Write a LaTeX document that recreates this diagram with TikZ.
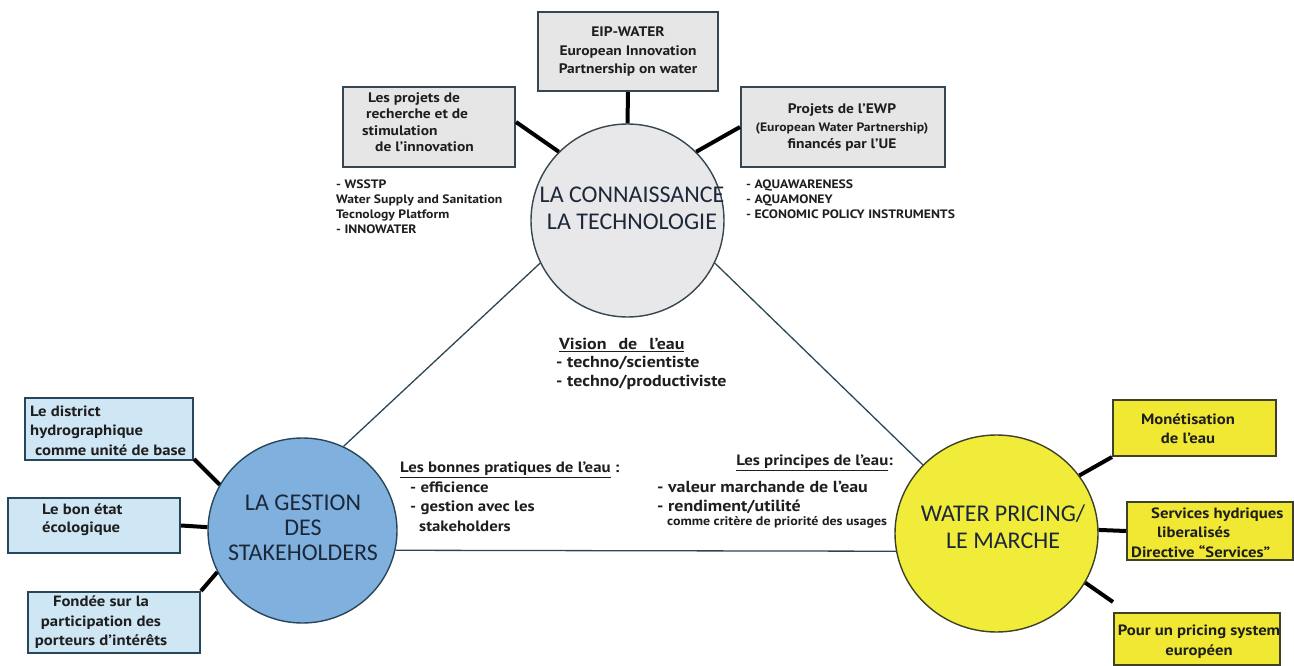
\documentclass[tikz,border=0pt]{standalone}
\usepackage{fontspec}
\setmainfont{PT Sans}[FakeStretch=1.12]
\newfontfamily\circfont{Carlito}
\usetikzlibrary{shapes.geometric}
\definecolor{boxgray}{RGB}{230,230,230}
\definecolor{grayline}{RGB}{55,70,80}
\definecolor{circgray}{RGB}{232,232,234}
\definecolor{blueball}{RGB}{128,177,222}
\definecolor{bluebox}{RGB}{207,230,245}
\definecolor{blueline}{RGB}{40,70,90}
\definecolor{yellowball}{RGB}{241,236,58}
\definecolor{yellowbox}{RGB}{240,232,50}
\definecolor{yellowline}{RGB}{60,65,40}
\definecolor{triline}{RGB}{45,70,85}
\definecolor{txt}{RGB}{30,30,30}
\definecolor{circtxt}{RGB}{28,40,58}
\tikzset{
  boxshape/.style={rectangle, line width=2pt, inner sep=0pt},
  graybox/.style={boxshape, draw=grayline, fill=boxgray},
  bluebx/.style={boxshape, draw=blueline, fill=bluebox},
  yellowbx/.style={boxshape, draw=yellowline, fill=yellowbox},
  ball/.style={ellipse, line width=1.4pt, inner sep=0pt},
  balltext/.style={font=\circfont\fontsize{24pt}{26.5pt}\selectfont, text=circtxt, align=center, inner sep=0pt},
  boxtext/.style={font=\bfseries\fontsize{13.8pt}{16.5pt}\selectfont, text=txt, inner sep=0pt},
  listtext/.style={font=\bfseries\fontsize{12.2pt}{15pt}\selectfont, text=txt, inner sep=0pt, align=left},
  midtext/.style={font=\bfseries\fontsize{15pt}{19.5pt}\selectfont, text=txt, inner sep=0pt, align=left},
  conn/.style={line width=4pt, draw=black},
  triedge/.style={line width=1.3pt, draw=triline},
}
\begin{document}
\begin{tikzpicture}[x=1pt,y=-1pt]
\useasboundingbox (0,0) rectangle (1294,666);
% circles
\node[ball, draw=grayline, fill=circgray, minimum width=193pt, minimum height=193pt] (top) at (627.5,220.5) {};
\node[ball, draw=blueline, fill=blueball, minimum width=189pt, minimum height=185pt] (left) at (302.5,530.5) {};
\node[ball, draw=yellowline, fill=yellowball, minimum width=203pt, minimum height=197pt] (yellow) at (996.5,533.5) {};
\node[balltext] (toptxt) at (632,208.5) {LA CONNAISSANCE\\LA TECHNOLOGIE};
\node[balltext, font=\circfont\fontsize{24pt}{25pt}\selectfont] (lefttxt) at (303,528) {LA GESTION\\DES\\STAKEHOLDERS};
\node[balltext] (yellowtxt) at (1003,526.5) {WATER PRICING/\\LE MARCHE};
% top boxes
\node[graybox, minimum width=180pt, minimum height=79pt] (eip) at (628,51.5) {};
\node[boxtext, align=center, font=\bfseries\fontsize{13.8pt}{18.5pt}\selectfont] (eiptxt) at (628,51.5) {EIP-WATER\\European Innovation\\Partnership on water};
\node[graybox, minimum width=172pt, minimum height=80pt] (tl) at (429,127) {};
\node[boxtext, align=left, anchor=west] (tltxt) at (362,122) {\hspace*{6pt}Les projets de\\\hspace*{4pt}recherche et de\\stimulation\\\hspace*{13pt}de l'innovation};
\node[graybox, minimum width=204pt, minimum height=80pt] (tr) at (843,127) {};
\node[boxtext, align=center, font=\bfseries\fontsize{13.8pt}{17.5pt}\selectfont] (trtxt) at (842,127.5) {Projets de l'EWP\\{\fontsize{12.2pt}{17.5pt}\selectfont (European Water Partnership)}\\financés par l'UE};
\node[listtext, anchor=west] (wsstp) at (336,206.5) {- WSSTP\\Water Supply and Sanitation\\Tecnology Platform\\- INNOWATER};
\node[listtext, anchor=west] (aqua) at (746,199) {- AQUAWARENESS\\- AQUAMONEY\\- ECONOMIC POLICY INSTRUMENTS};
% left boxes
\node[bluebx, minimum width=168pt, minimum height=62pt] (b1) at (109,429) {};
\node[boxtext, align=left, anchor=west, font=\bfseries\fontsize{14.9pt}{19.5pt}\selectfont] (b1txt) at (30,430.5) {Le district\\hydrographique\\\hspace*{5pt}comme unité de base};
\node[bluebx, minimum width=172pt, minimum height=55pt] (b2) at (94,525.5) {};
\node[boxtext, align=left, anchor=west, font=\bfseries\fontsize{14.9pt}{18pt}\selectfont] (b2txt) at (42,520) {Le bon état\\écologique};
\node[bluebx, minimum width=172pt, minimum height=61pt] (b3) at (114,622.5) {};
\node[boxtext, align=center, font=\bfseries\fontsize{14.9pt}{19.5pt}\selectfont] (b3txt) at (101,622.5) {Fondée sur la\\participation des\\porteurs d'intérêts};
% right boxes
\node[yellowbx, minimum width=163pt, minimum height=56pt] (y1) at (1194.5,428) {};
\node[boxtext, align=center, font=\bfseries\fontsize{14.9pt}{19pt}\selectfont] (y1txt) at (1188,428.5) {Monétisation\\de l'eau};
\node[yellowbx, minimum width=166pt, minimum height=58pt] (y2) at (1210,531) {};
\node[boxtext, align=left, anchor=west, font=\bfseries\fontsize{14.9pt}{19.5pt}\selectfont] (y2txt) at (1131,532.5) {\hspace*{20pt}Services hydriques\\\hspace*{26pt}liberalisés\\Directive “Services”};
\node[yellowbx, minimum width=166pt, minimum height=52pt] (y3) at (1197,639) {};
\node[boxtext, align=center, font=\bfseries\fontsize{14.9pt}{20pt}\selectfont] (y3txt) at (1199,642) {Pour un pricing system\\européen};
% middle texts
\node[midtext, anchor=west, font=\bfseries\fontsize{16pt}{18.5pt}\selectfont] (vision) at (556,363.5) {\hspace*{3pt}\underline{Vision\hspace{12pt}de\hspace{12pt}l'eau}\\- techno/scientiste\\- techno/productiviste};
\node[midtext, anchor=west] (bonnes) at (400,497) {\underline{Les bonnes pratiques de l'eau} :\\\hspace*{10pt}- efficience\\\hspace*{10pt}- gestion avec les\\\hspace*{19pt}stakeholders};
\node[midtext, anchor=east] (princ) at (893,463) {\underline{Les principes de l'eau}:};
\node[midtext, anchor=west, font=\bfseries\fontsize{16pt}{19pt}\selectfont] (princlist) at (657,497.5) {- valeur marchande de l'eau\\- rendiment/utilité};
\node[midtext, anchor=west, font=\bfseries\fontsize{12.5pt}{14pt}\selectfont] (princnote) at (667,522) {comme critère de priorité des usages};
% triangle edges
\draw[triedge] (top.206) -- (left.64);
\draw[triedge] (top.-26) -- (yellow.137);
\draw[triedge] (left.-12) -- (yellow.190);
% connectors
\draw[conn] (eip.south) -- (top.north);
\draw[conn] ([yshift=5pt]tl.east) -- (top.135);
\draw[conn] (tr.west) -- (top.45);
\draw[conn] ([yshift=2pt]b1.south east) -- (left.151);
\draw[conn] (b2.east) -- (left.178);
\draw[conn] (b3.north east) -- (left.206);
\draw[conn] (y1.south west) -- (yellow.35);
\draw[conn] (y2.west) -- (yellow.2);
\draw[conn] ([yshift=10pt]y3.north west) -- (yellow.-29);
\end{tikzpicture}
\end{document}
